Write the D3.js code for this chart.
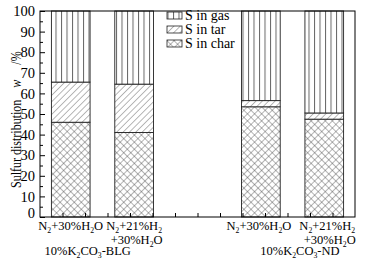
<!DOCTYPE html>
<html>
<head>
<meta charset="utf-8">
<script src="https://cdn.jsdelivr.net/npm/d3@7"></script>
<style>
  body { margin: 0; background: #fff; }
  text { font-family: "Liberation Serif", "Times New Roman", serif; fill: #000; }
</style>
</head>
<body>
<div id="container"></div>
<script>
/* CONSTANTS AND GLOBALS */
const width = 366,
  height = 261,
  margin = {top: 11, bottom: 44, left: 40, right: 11};

/* DATA */
// one empty slot between the two sample groups
const slots = ["BLG-a", "BLG-b", "gap", "ND-a", "ND-b"];
const barSlots = ["BLG-a", "BLG-b", "ND-a", "ND-b"];
const atmospheres = [["N2+30%H2O"], ["N2+21%H2", "+30%H2O"], ["N2+30%H2O"], ["N2+21%H2", "+30%H2O"]];
const samples = ["10%K2CO3-BLG", "10%K2CO3-ND"];
const sChar = [46, 41, 53.5, 47.5];
const sTar = [19.5, 23.5, 3, 3];
const sGas = [34.5, 35.5, 43.5, 49.5];
const seriesKeys = ["gas", "tar", "char"];
const seriesLabels = ["S in gas", "S in tar", "S in char"];
const yTicks = d3.range(0, 101, 10);
const yMinorTicks = d3.range(5, 100, 10);

const rows = barSlots.map((s, i) => ({slot: s, char: sChar[i], tar: sTar[i], gas: sGas[i]}));

/* SCALES */
const xScale = d3.scaleBand()
  .domain(slots)
  .range([margin.left, width - margin.right])
  .paddingInner(0.39)
  .paddingOuter(0.18);

// minor tick positions along the bottom edge
const xTickScale = d3.scaleLinear()
  .domain([0, 14])
  .range([margin.left, width - margin.right]);

const yScale = d3.scaleLinear()
  .domain([0, 100])
  .range([height - margin.bottom, margin.top]);

const stack = d3.stack().keys(["char", "tar", "gas"]);
const series = stack(rows);

/* SVG */
const svg = d3.select("#container")
  .append("svg")
  .attr("width", width)
  .attr("height", height);

// hatch patterns
const defs = svg.append("defs");

const gasPat = defs.append("pattern")
  .attr("id", "pat-gas")
  .attr("patternUnits", "userSpaceOnUse")
  .attr("width", 5.5)
  .attr("height", 10)
  .attr("patternTransform", "translate(0.5,0)");
gasPat.append("rect").attr("width", 5.5).attr("height", 10).attr("fill", "#fff");
gasPat.append("line")
  .attr("x1", 0.5).attr("x2", 0.5).attr("y1", 0).attr("y2", 10)
  .attr("stroke", "#666").attr("stroke-width", 1);

const tarPat = defs.append("pattern")
  .attr("id", "pat-tar")
  .attr("patternUnits", "userSpaceOnUse")
  .attr("width", 4.5)
  .attr("height", 10)
  .attr("patternTransform", "rotate(45)");
tarPat.append("rect").attr("width", 4.5).attr("height", 10).attr("fill", "#fff");
tarPat.append("line")
  .attr("x1", 0).attr("x2", 0).attr("y1", 0).attr("y2", 10)
  .attr("stroke", "#444").attr("stroke-width", 0.8);

const charPat = defs.append("pattern")
  .attr("id", "pat-char")
  .attr("patternUnits", "userSpaceOnUse")
  .attr("width", 5)
  .attr("height", 5)
  .attr("patternTransform", "rotate(45)");
charPat.append("rect").attr("width", 5).attr("height", 5).attr("fill", "#fff");
charPat.append("line")
  .attr("x1", 0).attr("x2", 0).attr("y1", 0).attr("y2", 5)
  .attr("stroke", "#444").attr("stroke-width", 0.8);
charPat.append("line")
  .attr("x1", 0).attr("x2", 5).attr("y1", 0).attr("y2", 0)
  .attr("stroke", "#444").attr("stroke-width", 0.8);

/* BARS */
svg.append("g")
  .selectAll("g")
  .data(series)
  .join("g")
  .attr("fill", d => `url(#pat-${d.key})`)
  .selectAll("rect")
  .data(d => d)
  .join("rect")
  .attr("x", d => xScale(d.data.slot))
  .attr("width", xScale.bandwidth())
  .attr("y", d => yScale(d[1]))
  .attr("height", d => yScale(d[0]) - yScale(d[1]))
  .attr("stroke", "#222")
  .attr("stroke-width", 0.9);

/* AXES */
const yAxis = d3.axisLeft(yScale)
  .tickValues(yTicks)
  .tickSize(-5)
  .tickPadding(5);

const yAxisGroup = svg.append("g")
  .attr("transform", `translate(${margin.left}, 0)`)
  .call(yAxis);
yAxisGroup.select(".domain").remove();
yAxisGroup.selectAll("text")
  .attr("font-size", 14.5)
  .attr("font-family", null);
yAxisGroup.selectAll(".tick")
  .filter(d => d === 0)
  .select("text")
  .attr("dy", "0.05em");

const yMinor = svg.append("g")
  .attr("transform", `translate(${margin.left}, 0)`)
  .call(d3.axisLeft(yScale).tickValues(yMinorTicks).tickSize(-3).tickFormat(""));
yMinor.select(".domain").remove();

const xAxis = svg.append("g")
  .attr("transform", `translate(0, ${height - margin.bottom})`)
  .call(d3.axisBottom(xTickScale).tickValues(d3.range(1, 14)).tickSize(-4).tickFormat(""));
xAxis.select(".domain").remove();

svg.selectAll(".tick line").attr("stroke", "#000");

// frame
svg.append("rect")
  .attr("x", margin.left)
  .attr("y", margin.top)
  .attr("width", width - margin.left - margin.right)
  .attr("height", height - margin.top - margin.bottom)
  .attr("fill", "none")
  .attr("stroke", "#000")
  .attr("stroke-width", 1);

/* CATEGORY LABELS */
// digits right after a letter are subscripts
function chem(sel, str) {
  let sub = false;
  str.split(/(?<=[A-Za-z])(\d+)/).forEach((p, i) => {
    if (i % 2 === 1) {
      sel.append("tspan").attr("font-size", "0.62em").attr("dy", 3).text(p);
      sub = true;
    } else if (p) {
      sel.append("tspan").attr("dy", sub ? -3 : 0).text(p);
      sub = false;
    }
  });
}

const labelY = [229.5, 243.5];
const labelG = svg.append("g").attr("font-size", 12.5);

barSlots.forEach((s, i) => {
  const cx = xScale(s) + xScale.bandwidth() / 2;
  atmospheres[i].forEach((line, j) => {
    const t = labelG.append("text")
      .attr("x", cx + (j === 1 ? 2.5 : 0) + (i === 3 ? 3 : 0) - (i === 2 ? 2 : 0))
      .attr("y", labelY[j])
      .attr("text-anchor", "middle");
    chem(t, line);
  });
});

const groupX = [
  xScale("BLG-a") + xScale.bandwidth() / 2 + 17,
  xScale("ND-a") + xScale.bandwidth() / 2 + 39
];
samples.forEach((s, i) => {
  const t = labelG.append("text")
    .attr("x", groupX[i])
    .attr("y", 255)
    .attr("text-anchor", "middle");
  chem(t, s);
});

/* Y TITLE */
const yTitle = svg.append("text")
  .attr("transform", "translate(21, 188) rotate(-90) scale(1, 1.25)")
  .attr("font-size", 12);
yTitle.append("tspan").text("Sulfur distribution");
yTitle.append("tspan").attr("dx", 12).attr("font-style", "italic").text("w");
yTitle.append("tspan").attr("dx", 15).text("/%");

/* LEGEND */
const legend = svg.append("g")
  .attr("transform", "translate(167, 12)");

const legendItem = legend.selectAll("g")
  .data(seriesKeys)
  .join("g")
  .attr("transform", (d, i) => `translate(0, ${i * 14})`);

legendItem.append("rect")
  .attr("width", 15)
  .attr("height", 7)
  .attr("fill", d => `url(#pat-${d})`)
  .attr("stroke", "#222")
  .attr("stroke-width", 0.8);

legendItem.append("text")
  .attr("x", 18)
  .attr("y", 7.5)
  .attr("font-size", 14)
  .text((d, i) => seriesLabels[i]);
</script>
</body>
</html>
